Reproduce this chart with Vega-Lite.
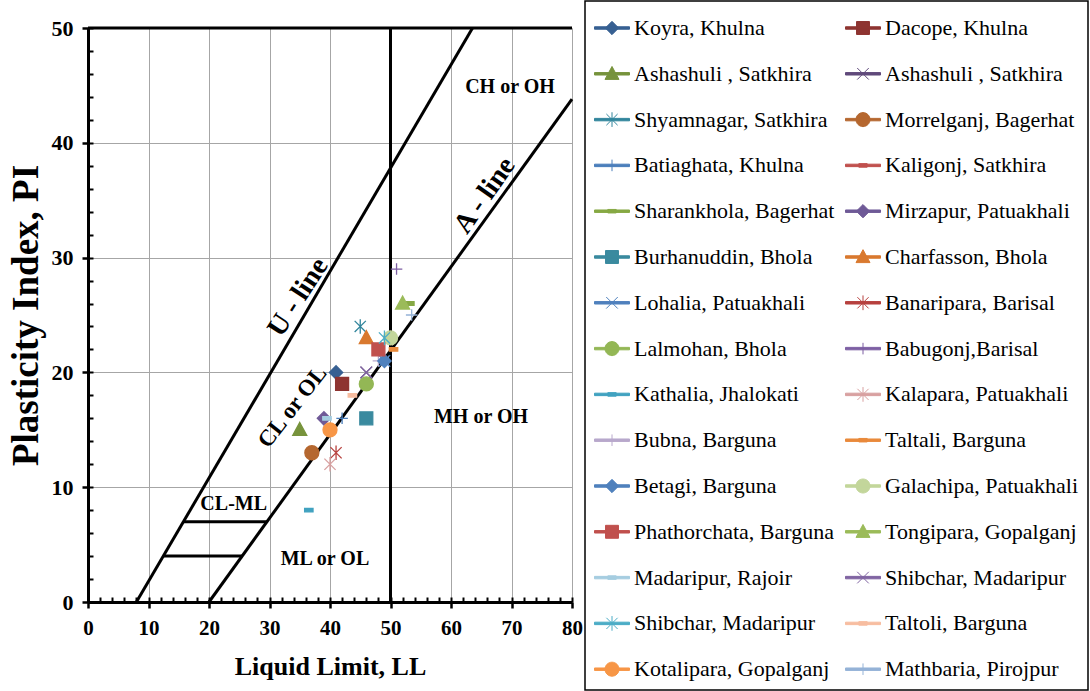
{
  "$schema": "https://vega.github.io/schema/vega-lite/v6.json",
  "width": 484,
  "height": 574,
  "autosize": {"type": "none"},
  "padding": {"left": 88, "top": 28, "right": 518, "bottom": 89},
  "background": "white",
  "config": {
    "view": {"stroke": null},
    "font": "Liberation Serif",
    "style": {"guide-label": {"font": "Liberation Serif", "fill": "black"}},
    "legend": {"strokeWidth": 1.5, "labelFont": "Liberation Serif", "labelFontSize": 22, "labelColor": "black"}
  },
  "datasets": {
    "samples": [
      {"site": "Koyra, Khulna", "ll": 41, "pi": 20},
      {"site": "Dacope, Khulna", "ll": 42, "pi": 19},
      {"site": "Ashashuli , Satkhira", "ll": 35, "pi": 15},
      {"site": "Ashashuli , Satkhira|2", "ll": 46, "pi": 20},
      {"site": "Shyamnagar, Satkhira", "ll": 45, "pi": 24},
      {"site": "Morrelganj, Bagerhat", "ll": 37, "pi": 13},
      {"site": "Batiaghata, Khulna", "ll": 42, "pi": 16},
      {"site": "Kaligonj, Satkhira", "ll": 48, "pi": 22},
      {"site": "Sharankhola, Bagerhat", "ll": 53.2, "pi": 26},
      {"site": "Mirzapur, Patuakhali", "ll": 39, "pi": 16},
      {"site": "Burhanuddin, Bhola", "ll": 46, "pi": 16},
      {"site": "Charfasson, Bhola", "ll": 46, "pi": 23},
      {"site": "Lohalia, Patuakhali", "ll": 49, "pi": 21},
      {"site": "Banaripara, Barisal", "ll": 41, "pi": 13},
      {"site": "Lalmohan, Bhola", "ll": 46, "pi": 19},
      {"site": "Babugonj,Barisal", "ll": 51, "pi": 29},
      {"site": "Kathalia, Jhalokati", "ll": 36.5, "pi": 8},
      {"site": "Kalapara, Patuakhali", "ll": 40, "pi": 12},
      {"site": "Bubna, Barguna", "ll": 48, "pi": 21},
      {"site": "Taltali, Barguna", "ll": 50.5, "pi": 22},
      {"site": "Betagi, Barguna", "ll": 49, "pi": 21},
      {"site": "Galachipa, Patuakhali", "ll": 50, "pi": 23},
      {"site": "Phathorchata, Barguna", "ll": 48, "pi": 22},
      {"site": "Tongipara, Gopalganj", "ll": 52, "pi": 26},
      {"site": "Madaripur, Rajoir", "ll": 39.5, "pi": 16},
      {"site": "Shibchar, Madaripur", "ll": 46, "pi": 20},
      {"site": "Shibchar, Madaripur|2", "ll": 49, "pi": 23},
      {"site": "Taltoli, Barguna", "ll": 43.7, "pi": 18},
      {"site": "Kotalipara, Gopalganj", "ll": 40, "pi": 15},
      {"site": "Mathbaria, Pirojpur", "ll": 53.5, "pi": 25}
    ],
    "boundaries": [
      {"name": "U-line", "ll": 8, "pi": 0, "ll2": 63.56, "pi2": 50},
      {"name": "A-line", "ll": 20, "pi": 0, "ll2": 80, "pi2": 43.8},
      {"name": "LL 50", "ll": 50, "pi": 0, "ll2": 50, "pi2": 50},
      {"name": "PI 7", "ll": 15.78, "pi": 7, "ll2": 29.59, "pi2": 7},
      {"name": "PI 4", "ll": 12.44, "pi": 4, "ll2": 25.48, "pi2": 4},
      {"name": "top", "ll": 0, "pi": 50, "ll2": 80, "pi2": 50}
    ],
    "zones": [
      {"label": "CH or OH", "ll": 69.75, "pi": 44.86},
      {"label": "MH or OH", "ll": 64.96, "pi": 16.1},
      {"label": "ML or OL", "ll": 39.17, "pi": 3.75},
      {"label": "CL-ML", "ll": 24.08, "pi": 8.54}
    ]
  },
  "resolve": {
    "scale": {"color": "independent", "shape": "independent", "stroke": "independent"},
    "axis": {"x": "independent", "y": "independent"}
  },
  "layer": [
    {
      "data": {"name": "boundaries"},
      "mark": {"type": "rule", "color": "black", "strokeWidth": 3},
      "encoding": {
        "x": {
          "field": "ll", "type": "quantitative",
          "scale": {"domain": [0, 80], "nice": false, "zero": false},
          "axis": {
            "orient": "bottom",
            "values": [0, 10, 20, 30, 40, 50, 60, 70, 80],
            "title": "Liquid Limit, LL",
            "titleFont": "Liberation Serif", "titleFontSize": 26, "titleFontWeight": "bold", "titleColor": "black", "titlePadding": 15,
            "labelFont": "Liberation Serif", "labelFontSize": 21, "labelFontWeight": "bold", "labelColor": "black", "labelPadding": 9,
            "labelFlush": false, "labelOverlap": false,
            "tickSize": 6, "tickWidth": 2.5, "tickColor": "black",
            "domainColor": "black", "domainWidth": 3,
            "grid": true, "gridColor": "#A6A6A6", "gridWidth": 1
          }
        },
        "y": {
          "field": "pi", "type": "quantitative",
          "scale": {"domain": [0, 50], "nice": false, "zero": false},
          "axis": {
            "orient": "left",
            "values": [0, 10, 20, 30, 40, 50],
            "title": "Plasticity Index, PI",
            "titleFont": "Liberation Serif", "titleFontSize": 37, "titleFontWeight": "bold", "titleColor": "black", "titlePadding": 6,
            "labelFont": "Liberation Serif", "labelFontSize": 22, "labelFontWeight": "bold", "labelColor": "black", "labelPadding": 9,
            "labelFlush": false, "labelOverlap": false,
            "tickSize": 6, "tickWidth": 2.5, "tickColor": "black",
            "domainColor": "black", "domainWidth": 3,
            "grid": true, "gridColor": "#A6A6A6", "gridWidth": 1
          }
        },
        "x2": {"field": "ll2"},
        "y2": {"field": "pi2"}
      }
    },
    {
      "data": {"name": "zones"},
      "mark": {"type": "text", "font": "Liberation Serif", "fontWeight": "bold", "fontSize": 20, "color": "black", "align": "center", "baseline": "middle"},
      "encoding": {
        "x": {"field": "ll", "type": "quantitative", "axis": null},
        "y": {"field": "pi", "type": "quantitative", "axis": null},
        "text": {"field": "label"}
      }
    },
    {
      "data": {"values": [{"label": "U - line", "ll": 34.76, "pi": 26.54}]},
      "mark": {"type": "text", "font": "Liberation Serif", "fontWeight": "bold", "fontSize": 28, "angle": -57, "color": "black", "align": "center", "baseline": "middle"},
      "encoding": {
        "x": {"field": "ll", "type": "quantitative", "axis": null},
        "y": {"field": "pi", "type": "quantitative", "axis": null},
        "text": {"field": "label"}
      }
    },
    {
      "data": {"values": [{"label": "A - line", "ll": 65.6, "pi": 35.4}]},
      "mark": {"type": "text", "font": "Liberation Serif", "fontWeight": "bold", "fontSize": 28, "angle": -55, "color": "black", "align": "center", "baseline": "middle"},
      "encoding": {
        "x": {"field": "ll", "type": "quantitative", "axis": null},
        "y": {"field": "pi", "type": "quantitative", "axis": null},
        "text": {"field": "label"}
      }
    },
    {
      "data": {"values": [{"label": "CL or OL", "ll": 33.8, "pi": 17.0}]},
      "mark": {"type": "text", "font": "Liberation Serif", "fontWeight": "bold", "fontSize": 23, "angle": -52, "color": "black", "align": "center", "baseline": "middle"},
      "encoding": {
        "x": {"field": "ll", "type": "quantitative", "axis": null},
        "y": {"field": "pi", "type": "quantitative", "axis": null},
        "text": {"field": "label"}
      }
    },
    {
      "data": {"name": "samples"},
      "mark": {"type": "point", "filled": true, "opacity": 1, "size": 1225, "strokeWidth": 1.3},
      "encoding": {
        "x": {
          "field": "ll", "type": "quantitative",
          "axis": {
            "orient": "bottom",
            "values": [0, 2, 4, 6, 8, 10, 12, 14, 16, 18, 20, 22, 24, 26, 28, 30, 32, 34, 36, 38, 40, 42, 44, 46, 48, 50, 52, 54, 56, 58, 60, 62, 64, 66, 68, 70, 72, 74, 76, 78, 80],
            "labels": false, "domain": false, "grid": false, "title": null,
            "tickSize": -5, "tickWidth": 2, "tickColor": "black"
          }
        },
        "y": {
          "field": "pi", "type": "quantitative",
          "axis": {
            "orient": "left",
            "values": [0, 2, 4, 6, 8, 10, 12, 14, 16, 18, 20, 22, 24, 26, 28, 30, 32, 34, 36, 38, 40, 42, 44, 46, 48, 50],
            "labels": false, "domain": false, "grid": false, "title": null,
            "tickSize": -5, "tickWidth": 2, "tickColor": "black"
          }
        },
        "color": {
          "field": "site", "type": "nominal",
          "scale": {
            "domain": ["Koyra, Khulna", "Dacope, Khulna", "Ashashuli , Satkhira", "Ashashuli , Satkhira|2", "Shyamnagar, Satkhira", "Morrelganj, Bagerhat", "Batiaghata, Khulna", "Kaligonj, Satkhira", "Sharankhola, Bagerhat", "Mirzapur, Patuakhali", "Burhanuddin, Bhola", "Charfasson, Bhola", "Lohalia, Patuakhali", "Banaripara, Barisal", "Lalmohan, Bhola", "Babugonj,Barisal", "Kathalia, Jhalokati", "Kalapara, Patuakhali", "Bubna, Barguna", "Taltali, Barguna", "Betagi, Barguna", "Galachipa, Patuakhali", "Phathorchata, Barguna", "Tongipara, Gopalganj", "Madaripur, Rajoir", "Shibchar, Madaripur", "Shibchar, Madaripur|2", "Taltoli, Barguna", "Kotalipara, Gopalganj", "Mathbaria, Pirojpur"],
            "range": ["#376092", "#8E3431", "#77933C", "#604A7B", "#31859C", "#B5672F", "#4A7EBB", "#C0504D", "#86A944", "#6F5A97", "#3A8A9F", "#D9792F", "#4F81BD", "#B7413E", "#93B755", "#7D5FA3", "#41A2C0", "#D8A0A0", "#B8A8CC", "#E98A3C", "#4F81BD", "#C3D69B", "#C0504D", "#9BBB59", "#A5CDE0", "#8064A2", "#4BACC6", "#F7BDA0", "#F79646", "#95B3D7"]
          },
          "legend": null
        },
        "stroke": {
          "field": "site", "type": "nominal",
          "scale": {
            "domain": ["Koyra, Khulna", "Dacope, Khulna", "Ashashuli , Satkhira", "Ashashuli , Satkhira|2", "Shyamnagar, Satkhira", "Morrelganj, Bagerhat", "Batiaghata, Khulna", "Kaligonj, Satkhira", "Sharankhola, Bagerhat", "Mirzapur, Patuakhali", "Burhanuddin, Bhola", "Charfasson, Bhola", "Lohalia, Patuakhali", "Banaripara, Barisal", "Lalmohan, Bhola", "Babugonj,Barisal", "Kathalia, Jhalokati", "Kalapara, Patuakhali", "Bubna, Barguna", "Taltali, Barguna", "Betagi, Barguna", "Galachipa, Patuakhali", "Phathorchata, Barguna", "Tongipara, Gopalganj", "Madaripur, Rajoir", "Shibchar, Madaripur", "Shibchar, Madaripur|2", "Taltoli, Barguna", "Kotalipara, Gopalganj", "Mathbaria, Pirojpur"],
            "range": ["#376092", "#8E3431", "#77933C", "#604A7B", "#31859C", "#B5672F", "#4A7EBB", "#C0504D", "#86A944", "#6F5A97", "#3A8A9F", "#D9792F", "#4F81BD", "#B7413E", "#93B755", "#7D5FA3", "#41A2C0", "#D8A0A0", "#B8A8CC", "#E98A3C", "#4F81BD", "#C3D69B", "#C0504D", "#9BBB59", "#A5CDE0", "#8064A2", "#4BACC6", "#F7BDA0", "#F79646", "#95B3D7"]
          },
          "legend": null
        },
        "shape": {
          "field": "site", "type": "nominal",
          "scale": {
            "domain": ["Koyra, Khulna", "Dacope, Khulna", "Ashashuli , Satkhira", "Ashashuli , Satkhira|2", "Shyamnagar, Satkhira", "Morrelganj, Bagerhat", "Batiaghata, Khulna", "Kaligonj, Satkhira", "Sharankhola, Bagerhat", "Mirzapur, Patuakhali", "Burhanuddin, Bhola", "Charfasson, Bhola", "Lohalia, Patuakhali", "Banaripara, Barisal", "Lalmohan, Bhola", "Babugonj,Barisal", "Kathalia, Jhalokati", "Kalapara, Patuakhali", "Bubna, Barguna", "Taltali, Barguna", "Betagi, Barguna", "Galachipa, Patuakhali", "Phathorchata, Barguna", "Tongipara, Gopalganj", "Madaripur, Rajoir", "Shibchar, Madaripur", "Shibchar, Madaripur|2", "Taltoli, Barguna", "Kotalipara, Gopalganj", "Mathbaria, Pirojpur"],
            "range": [
              "M0,-0.38L0.38,0L0,0.38L-0.38,0Z",
              "M-0.37,-0.37H0.37V0.37H-0.37Z",
              "M0,-0.42L0.4,0.32H-0.4Z",
              "M-0.33,-0.33L0.33,0.33M-0.33,0.33L0.33,-0.33",
              "M-0.32,-0.32L0.32,0.32M-0.32,0.32L0.32,-0.32M0,-0.42V0.42",
              "M0.4,0A0.4,0.4 0 1,1 -0.4,0A0.4,0.4 0 1,1 0.4,0Z",
              "M-0.33,0H0.33M0,-0.33V0.33",
              "M-0.24,-0.1H0.24V0.1H-0.24Z",
              "M-0.24,-0.1H0.24V0.1H-0.24Z",
              "M0,-0.38L0.38,0L0,0.38L-0.38,0Z",
              "M-0.37,-0.37H0.37V0.37H-0.37Z",
              "M0,-0.42L0.4,0.32H-0.4Z",
              "M-0.33,-0.33L0.33,0.33M-0.33,0.33L0.33,-0.33",
              "M-0.32,-0.32L0.32,0.32M-0.32,0.32L0.32,-0.32M0,-0.42V0.42",
              "M0.4,0A0.4,0.4 0 1,1 -0.4,0A0.4,0.4 0 1,1 0.4,0Z",
              "M-0.33,0H0.33M0,-0.33V0.33",
              "M-0.24,-0.1H0.24V0.1H-0.24Z",
              "M-0.32,-0.32L0.32,0.32M-0.32,0.32L0.32,-0.32M0,-0.42V0.42",
              "M-0.33,0H0.33M0,-0.33V0.33",
              "M-0.24,-0.1H0.24V0.1H-0.24Z",
              "M0,-0.38L0.38,0L0,0.38L-0.38,0Z",
              "M0.4,0A0.4,0.4 0 1,1 -0.4,0A0.4,0.4 0 1,1 0.4,0Z",
              "M-0.37,-0.37H0.37V0.37H-0.37Z",
              "M0,-0.42L0.4,0.32H-0.4Z",
              "M-0.24,-0.1H0.24V0.1H-0.24Z",
              "M-0.33,-0.33L0.33,0.33M-0.33,0.33L0.33,-0.33",
              "M-0.32,-0.32L0.32,0.32M-0.32,0.32L0.32,-0.32M0,-0.42V0.42",
              "M-0.24,-0.1H0.24V0.1H-0.24Z",
              "M0.4,0A0.4,0.4 0 1,1 -0.4,0A0.4,0.4 0 1,1 0.4,0Z",
              "M-0.33,0H0.33M0,-0.33V0.33"
            ]
          },
          "legend": null
        }
      }
    },
    {
      "description": "Legend keys: each series drawn as a line segment with its marker; this layer draws no marks of its own.",
      "data": {"name": "samples"},
      "transform": [{"filter": "false"}],
      "mark": {"type": "point", "filled": true, "opacity": 1, "size": 1225, "strokeWidth": 1},
      "encoding": {
        "x": {"field": "ll", "type": "quantitative", "axis": null},
        "y": {"field": "pi", "type": "quantitative", "axis": null},
        "color": {
          "field": "site", "type": "nominal",
          "scale": {
            "domain": ["Koyra, Khulna", "Dacope, Khulna", "Ashashuli , Satkhira", "Ashashuli , Satkhira|2", "Shyamnagar, Satkhira", "Morrelganj, Bagerhat", "Batiaghata, Khulna", "Kaligonj, Satkhira", "Sharankhola, Bagerhat", "Mirzapur, Patuakhali", "Burhanuddin, Bhola", "Charfasson, Bhola", "Lohalia, Patuakhali", "Banaripara, Barisal", "Lalmohan, Bhola", "Babugonj,Barisal", "Kathalia, Jhalokati", "Kalapara, Patuakhali", "Bubna, Barguna", "Taltali, Barguna", "Betagi, Barguna", "Galachipa, Patuakhali", "Phathorchata, Barguna", "Tongipara, Gopalganj", "Madaripur, Rajoir", "Shibchar, Madaripur", "Shibchar, Madaripur|2", "Taltoli, Barguna", "Kotalipara, Gopalganj", "Mathbaria, Pirojpur"],
            "range": ["#376092", "#8E3431", "#77933C", "#604A7B", "#31859C", "#B5672F", "#4A7EBB", "#C0504D", "#86A944", "#6F5A97", "#3A8A9F", "#D9792F", "#4F81BD", "#B7413E", "#93B755", "#7D5FA3", "#41A2C0", "#D8A0A0", "#B8A8CC", "#E98A3C", "#4F81BD", "#C3D69B", "#C0504D", "#9BBB59", "#A5CDE0", "#8064A2", "#4BACC6", "#F7BDA0", "#F79646", "#95B3D7"]
          },
          "legend": {
            "orient": "none", "legendX": 497, "legendY": -27,
            "direction": "horizontal", "columns": 2, "title": null,
            "labelFont": "Liberation Serif", "labelFontSize": 22, "labelColor": "black", "labelLimit": 400, "labelOffset": 4,
            "labelExpr": "split(datum.label, '|')[0]",
            "symbolSize": 1225, "symbolStrokeWidth": 1, "symbolOpacity": 1,
            "rowPadding": 16.8, "columnPadding": 8, "padding": 9,
            "strokeColor": "black"
          }
        },
        "stroke": {
          "field": "site", "type": "nominal",
          "scale": {
            "domain": ["Koyra, Khulna", "Dacope, Khulna", "Ashashuli , Satkhira", "Ashashuli , Satkhira|2", "Shyamnagar, Satkhira", "Morrelganj, Bagerhat", "Batiaghata, Khulna", "Kaligonj, Satkhira", "Sharankhola, Bagerhat", "Mirzapur, Patuakhali", "Burhanuddin, Bhola", "Charfasson, Bhola", "Lohalia, Patuakhali", "Banaripara, Barisal", "Lalmohan, Bhola", "Babugonj,Barisal", "Kathalia, Jhalokati", "Kalapara, Patuakhali", "Bubna, Barguna", "Taltali, Barguna", "Betagi, Barguna", "Galachipa, Patuakhali", "Phathorchata, Barguna", "Tongipara, Gopalganj", "Madaripur, Rajoir", "Shibchar, Madaripur", "Shibchar, Madaripur|2", "Taltoli, Barguna", "Kotalipara, Gopalganj", "Mathbaria, Pirojpur"],
            "range": ["#376092", "#8E3431", "#77933C", "#604A7B", "#31859C", "#B5672F", "#4A7EBB", "#C0504D", "#86A944", "#6F5A97", "#3A8A9F", "#D9792F", "#4F81BD", "#B7413E", "#93B755", "#7D5FA3", "#41A2C0", "#D8A0A0", "#B8A8CC", "#E98A3C", "#4F81BD", "#C3D69B", "#C0504D", "#9BBB59", "#A5CDE0", "#8064A2", "#4BACC6", "#F7BDA0", "#F79646", "#95B3D7"]
          }
        },
        "shape": {
          "field": "site", "type": "nominal",
          "scale": {
            "domain": ["Koyra, Khulna", "Dacope, Khulna", "Ashashuli , Satkhira", "Ashashuli , Satkhira|2", "Shyamnagar, Satkhira", "Morrelganj, Bagerhat", "Batiaghata, Khulna", "Kaligonj, Satkhira", "Sharankhola, Bagerhat", "Mirzapur, Patuakhali", "Burhanuddin, Bhola", "Charfasson, Bhola", "Lohalia, Patuakhali", "Banaripara, Barisal", "Lalmohan, Bhola", "Babugonj,Barisal", "Kathalia, Jhalokati", "Kalapara, Patuakhali", "Bubna, Barguna", "Taltali, Barguna", "Betagi, Barguna", "Galachipa, Patuakhali", "Phathorchata, Barguna", "Tongipara, Gopalganj", "Madaripur, Rajoir", "Shibchar, Madaripur", "Shibchar, Madaripur|2", "Taltoli, Barguna", "Kotalipara, Gopalganj", "Mathbaria, Pirojpur"],
            "range": [
              "M-1,-0.07H1V0.07H-1ZM0,-0.38L0.38,0L0,0.38L-0.38,0Z",
              "M-1,-0.07H1V0.07H-1ZM-0.37,-0.37H0.37V0.37H-0.37Z",
              "M-1,-0.07H1V0.07H-1ZM0,-0.42L0.4,0.32H-0.4Z",
              "M-1,-0.07H1V0.07H-1ZM-0.33,-0.33L0.33,0.33M-0.33,0.33L0.33,-0.33",
              "M-1,-0.07H1V0.07H-1ZM-0.32,-0.32L0.32,0.32M-0.32,0.32L0.32,-0.32M0,-0.42V0.42",
              "M-1,-0.07H1V0.07H-1ZM0.4,0A0.4,0.4 0 1,1 -0.4,0A0.4,0.4 0 1,1 0.4,0Z",
              "M-1,-0.07H1V0.07H-1ZM-0.33,0H0.33M0,-0.33V0.33",
              "M-1,-0.07H1V0.07H-1ZM-0.24,-0.1H0.24V0.1H-0.24Z",
              "M-1,-0.07H1V0.07H-1ZM-0.24,-0.1H0.24V0.1H-0.24Z",
              "M-1,-0.07H1V0.07H-1ZM0,-0.38L0.38,0L0,0.38L-0.38,0Z",
              "M-1,-0.07H1V0.07H-1ZM-0.37,-0.37H0.37V0.37H-0.37Z",
              "M-1,-0.07H1V0.07H-1ZM0,-0.42L0.4,0.32H-0.4Z",
              "M-1,-0.07H1V0.07H-1ZM-0.33,-0.33L0.33,0.33M-0.33,0.33L0.33,-0.33",
              "M-1,-0.07H1V0.07H-1ZM-0.32,-0.32L0.32,0.32M-0.32,0.32L0.32,-0.32M0,-0.42V0.42",
              "M-1,-0.07H1V0.07H-1ZM0.4,0A0.4,0.4 0 1,1 -0.4,0A0.4,0.4 0 1,1 0.4,0Z",
              "M-1,-0.07H1V0.07H-1ZM-0.33,0H0.33M0,-0.33V0.33",
              "M-1,-0.07H1V0.07H-1ZM-0.24,-0.1H0.24V0.1H-0.24Z",
              "M-1,-0.07H1V0.07H-1ZM-0.32,-0.32L0.32,0.32M-0.32,0.32L0.32,-0.32M0,-0.42V0.42",
              "M-1,-0.07H1V0.07H-1ZM-0.33,0H0.33M0,-0.33V0.33",
              "M-1,-0.07H1V0.07H-1ZM-0.24,-0.1H0.24V0.1H-0.24Z",
              "M-1,-0.07H1V0.07H-1ZM0,-0.38L0.38,0L0,0.38L-0.38,0Z",
              "M-1,-0.07H1V0.07H-1ZM0.4,0A0.4,0.4 0 1,1 -0.4,0A0.4,0.4 0 1,1 0.4,0Z",
              "M-1,-0.07H1V0.07H-1ZM-0.37,-0.37H0.37V0.37H-0.37Z",
              "M-1,-0.07H1V0.07H-1ZM0,-0.42L0.4,0.32H-0.4Z",
              "M-1,-0.07H1V0.07H-1ZM-0.24,-0.1H0.24V0.1H-0.24Z",
              "M-1,-0.07H1V0.07H-1ZM-0.33,-0.33L0.33,0.33M-0.33,0.33L0.33,-0.33",
              "M-1,-0.07H1V0.07H-1ZM-0.32,-0.32L0.32,0.32M-0.32,0.32L0.32,-0.32M0,-0.42V0.42",
              "M-1,-0.07H1V0.07H-1ZM-0.24,-0.1H0.24V0.1H-0.24Z",
              "M-1,-0.07H1V0.07H-1ZM0.4,0A0.4,0.4 0 1,1 -0.4,0A0.4,0.4 0 1,1 0.4,0Z",
              "M-1,-0.07H1V0.07H-1ZM-0.33,0H0.33M0,-0.33V0.33"
            ]
          }
        }
      }
    }
  ]
}
